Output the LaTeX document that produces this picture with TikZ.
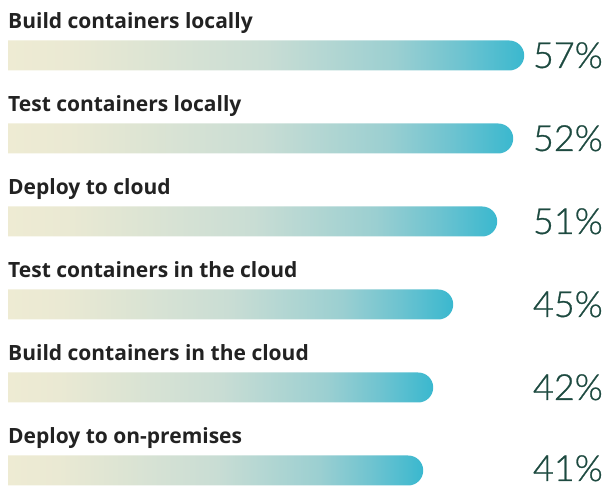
\documentclass[tikz,border=0pt]{standalone}
\usepackage{fontspec}
\setmainfont{Open Sans}
\newfontfamily\pctfont{Lato Light}[FakeBold=0.8]
\usetikzlibrary{shapes.misc,positioning}
\definecolor{barstart}{HTML}{EEEBD3}
\definecolor{barlight}{HTML}{EAE9D3}
\definecolor{barmid}{HTML}{C9DDD4}
\definecolor{barsea}{HTML}{9BCFD1}
\definecolor{barteal}{HTML}{6DC3D0}
\definecolor{barend}{HTML}{3AB8CF}
\definecolor{pctgreen}{HTML}{1D4A40}
\definecolor{labelgray}{HTML}{222222}
\pgfdeclarehorizontalshading{barfade}{100bp}{color(0bp)=(barstart); color(25bp)=(barstart);
    color(31bp)=(barlight); color(50bp)=(barmid); color(62.5bp)=(barsea);
    color(69bp)=(barteal); color(75bp)=(barend); color(100bp)=(barend)}

\begin{document}
\begin{tikzpicture}[x=1pt, y=1pt,
    itemlabel/.style={anchor=base west, inner sep=0pt, text=labelgray,
        font=\fontsize{21}{25}\selectfont\bfseries},
    barbox/.style={rounded rectangle, rounded rectangle west arc=none,
        anchor=west, inner sep=0pt, minimum height=30pt,
        shade, shading=barfade},
    pct/.style={anchor=base east, inner sep=0pt, text=pctgreen,
        font=\pctfont\fontsize{36}{40}\selectfont}]
    \useasboundingbox (0,0) rectangle (606,487);

    % build containers locally
    \node [itemlabel] (buildlocal) at (8,458) {Build containers locally};
    \node [barbox, minimum width=516pt] (buildlocalbar) at (8,431.5) {};
    \node [pct] (buildlocalpct) at (603,419) {57\%};

    % test containers locally
    \node [itemlabel] (testlocal) at (8,375) {Test containers locally};
    \node [barbox, minimum width=505pt] (testlocalbar) at (8,348.5) {};
    \node [pct] (testlocalpct) at (603,336) {52\%};

    % deploy to cloud
    \node [itemlabel] (deploycloud) at (8,292) {Deploy to cloud};
    \node [barbox, minimum width=489pt] (deploycloudbar) at (8,265.5) {};
    \node [pct] (deploycloudpct) at (603,253) {51\%};

    % test containers in the cloud
    \node [itemlabel] (testcloud) at (8,209) {Test containers in the cloud};
    \node [barbox, minimum width=445pt] (testcloudbar) at (8,182.5) {};
    \node [pct] (testcloudpct) at (603,170) {45\%};

    % build containers in the cloud
    \node [itemlabel] (buildcloud) at (8,126) {Build containers in the cloud};
    \node [barbox, minimum width=425pt] (buildcloudbar) at (8,99.5) {};
    \node [pct] (buildcloudpct) at (603,87) {42\%};

    % deploy to on-premises
    \node [itemlabel] (deployonprem) at (8,43) {Deploy to on-premises};
    \node [barbox, minimum width=415pt] (deployonprembar) at (8,16.5) {};
    \node [pct] (deployonprempct) at (603,6) {41\%};
\end{tikzpicture}
\end{document}
